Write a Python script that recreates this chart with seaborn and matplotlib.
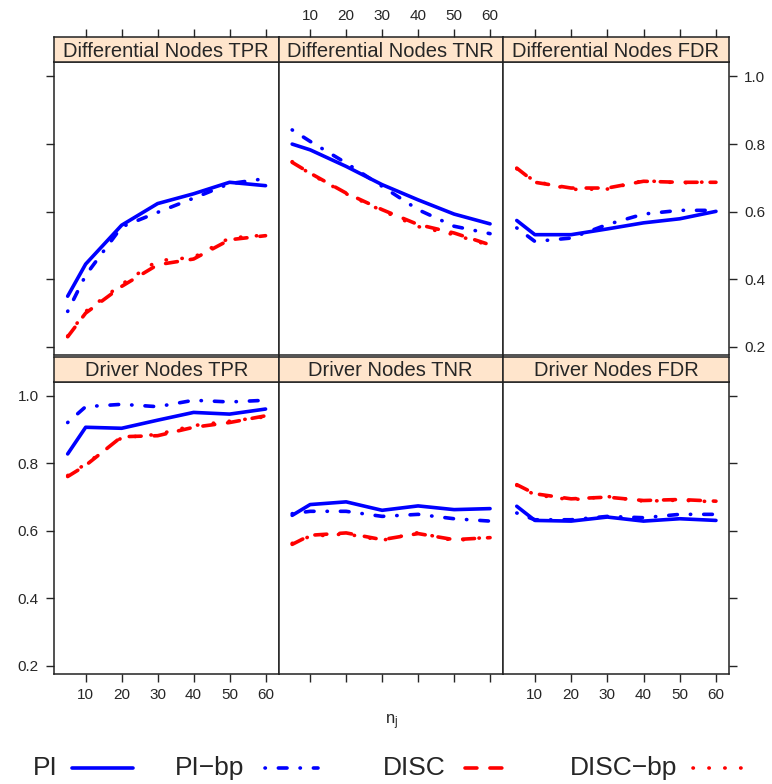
import numpy as np
import pandas as pd
import matplotlib
matplotlib.use("Agg")
import matplotlib.pyplot as plt
from matplotlib.lines import Line2D
import seaborn as sns

sns.set_style("white")
plt.rcParams['font.family'] = ['Liberation Sans', 'DejaVu Sans']

# ---------------- data ----------------
n_j = [5, 10, 20, 30, 40, 50, 60]
methods = ["PI", "PI\u2212bp", "DISC", "DISC\u2212bp"]
panel_titles = ["Differential Nodes TPR", "Differential Nodes TNR", "Differential Nodes FDR",
                "Driver Nodes TPR", "Driver Nodes TNR", "Driver Nodes FDR"]

diff_tpr_pi     = [0.350, 0.445, 0.560, 0.624, 0.653, 0.687, 0.677]
diff_tpr_pibp   = [0.305, 0.412, 0.555, 0.598, 0.640, 0.683, 0.698]
diff_tpr_disc   = [0.230, 0.300, 0.379, 0.443, 0.460, 0.517, 0.529]
diff_tpr_discbp = [0.232, 0.305, 0.385, 0.455, 0.465, 0.522, 0.531]

diff_tnr_pi     = [0.800, 0.783, 0.734, 0.680, 0.635, 0.593, 0.564]
diff_tnr_pibp   = [0.842, 0.808, 0.744, 0.675, 0.606, 0.557, 0.535]
diff_tnr_disc   = [0.746, 0.714, 0.655, 0.606, 0.562, 0.537, 0.502]
diff_tnr_discbp = [0.748, 0.712, 0.653, 0.603, 0.556, 0.532, 0.500]

diff_fdr_pi     = [0.574, 0.532, 0.532, 0.549, 0.567, 0.579, 0.601]
diff_fdr_pibp   = [0.552, 0.512, 0.522, 0.562, 0.593, 0.604, 0.604]
diff_fdr_disc   = [0.729, 0.687, 0.670, 0.670, 0.690, 0.687, 0.687]
diff_fdr_discbp = [0.727, 0.690, 0.666, 0.667, 0.692, 0.685, 0.689]

drv_tpr_pi      = [0.828, 0.907, 0.904, 0.928, 0.951, 0.946, 0.961]
drv_tpr_pibp    = [0.921, 0.968, 0.975, 0.968, 0.987, 0.982, 0.987]
drv_tpr_disc    = [0.761, 0.794, 0.879, 0.882, 0.907, 0.921, 0.941]
drv_tpr_discbp  = [0.764, 0.798, 0.876, 0.886, 0.912, 0.925, 0.938]

drv_tnr_pi      = [0.646, 0.678, 0.686, 0.661, 0.674, 0.663, 0.666]
drv_tnr_pibp    = [0.651, 0.658, 0.658, 0.643, 0.649, 0.636, 0.629]
drv_tnr_disc    = [0.560, 0.587, 0.594, 0.574, 0.592, 0.574, 0.580]
drv_tnr_discbp  = [0.563, 0.584, 0.591, 0.572, 0.595, 0.571, 0.582]

drv_fdr_pi      = [0.673, 0.631, 0.629, 0.641, 0.629, 0.636, 0.631]
drv_fdr_pibp    = [0.653, 0.633, 0.633, 0.643, 0.639, 0.649, 0.649]
drv_fdr_disc    = [0.737, 0.710, 0.695, 0.700, 0.690, 0.693, 0.688]
drv_fdr_discbp  = [0.735, 0.707, 0.692, 0.702, 0.688, 0.691, 0.686]

panel_series = [
    [diff_tpr_pi, diff_tpr_pibp, diff_tpr_disc, diff_tpr_discbp],
    [diff_tnr_pi, diff_tnr_pibp, diff_tnr_disc, diff_tnr_discbp],
    [diff_fdr_pi, diff_fdr_pibp, diff_fdr_disc, diff_fdr_discbp],
    [drv_tpr_pi, drv_tpr_pibp, drv_tpr_disc, drv_tpr_discbp],
    [drv_tnr_pi, drv_tnr_pibp, drv_tnr_disc, drv_tnr_discbp],
    [drv_fdr_pi, drv_fdr_pibp, drv_fdr_disc, drv_fdr_discbp],
]
xticks = [10, 20, 30, 40, 50, 60]
yticks = [0.2, 0.4, 0.6, 0.8, 1.0]

# ---------------- styles ----------------
palette = {methods[0]: "#0000FF", methods[1]: "#0000FF",
           methods[2]: "#FF0000", methods[3]: "#FF0000"}
dashes = {methods[0]: "", methods[1]: (0.1, 3.6, 2.4, 3.6),
          methods[2]: (3.3, 3.6), methods[3]: (0.1, 4.3)}
LW = 2.6
strip_color = "#FFE5CC"

W, H = 772, 784
fig = plt.figure(figsize=(W / 100, H / 100), dpi=100)

col_x = [54, 278.5, 503, 729]
rows = [(37.3, 62.3, 355.0), (356.5, 381.7, 674.0)]
xlim = (1.2, 63.6)
ylim = (0.176, 1.042)

def fx(px):
    return px / W

def fy(py):
    return 1 - py / H

tick_len = 6
for r in range(2):
    s_top, p_top, p_bot = rows[r]
    for c in range(3):
        idx = r * 3 + c
        x0, x1 = col_x[c], col_x[c + 1]
        ax = fig.add_axes([fx(x0), fy(p_bot), fx(x1) - fx(x0), fy(p_top) - fy(p_bot)])
        sax = fig.add_axes([fx(x0), fy(p_top), fx(x1) - fx(x0), fy(s_top) - fy(p_top)], sharex=ax)

        df = pd.DataFrame({
            "n_j": np.tile(n_j, 4),
            "value": np.concatenate(panel_series[idx]),
            "method": np.repeat(methods, len(n_j)),
        })
        sns.lineplot(data=df, x="n_j", y="value", hue="method", style="method",
                     palette=palette, dashes=dashes, hue_order=methods, style_order=methods,
                     linewidth=LW, legend=False, ax=ax,
                     dash_capstyle="round", solid_capstyle="round")
        ax.set_xlim(*xlim)
        ax.set_ylim(*ylim)
        ax.set_xlabel("")
        ax.set_ylabel("")
        ax.set_xticks(xticks)
        ax.set_yticks(yticks)
        ax.set_yticklabels(["%.1f" % v for v in yticks])
        ax.set_xticklabels([str(v) for v in xticks])
        for sp in ax.spines.values():
            sp.set_color("#222222")
            sp.set_linewidth(1.1)

        # strip
        sax.set_facecolor(strip_color)
        sax.set_yticks([])
        for sp in sax.spines.values():
            sp.set_color("#222222")
            sp.set_linewidth(1.1)
        sax.text(0.5, 0.45, panel_titles[idx], transform=sax.transAxes,
                 ha="center", va="center", fontsize=14.5)

        if r == 0:
            ax.tick_params(axis="y", left=(c == 0), labelleft=False,
                           right=(c == 2), labelright=(c == 2),
                           direction="out", length=tick_len, width=1, pad=5, labelsize=11)
        else:
            ax.tick_params(axis="y", left=(c == 0), labelleft=(c == 0),
                           right=(c == 2), labelright=False,
                           direction="out", length=tick_len, width=1, pad=5, labelsize=11)
        if r == 0:
            ax.tick_params(axis="x", bottom=False, labelbottom=False, top=False, labeltop=False)
            sax.tick_params(axis="x", bottom=False, labelbottom=False, top=True,
                            labeltop=(c == 1), direction="out", length=tick_len,
                            width=1, pad=4, labelsize=11)
        else:
            ax.tick_params(axis="x", bottom=True, labelbottom=(c != 1), top=False,
                           labeltop=False, direction="out", length=tick_len,
                           width=1, pad=4, labelsize=11)
            sax.tick_params(axis="x", bottom=False, labelbottom=False, top=False, labeltop=False)

fig.text(fx(391.5), fy(722), r"$\mathregular{n_j}$", ha="center", va="center", fontsize=12)

# legend (key below the panels, text followed by line sample)
leg_text_x = [33, 175, 383, 570]
leg_line_x = [(72, 133), (265, 318), (465, 510), (693, 745)]
leg_y = 768
for m, tx, (lx0, lx1) in zip(methods, leg_text_x, leg_line_x):
    fig.text(fx(tx), fy(leg_y), m, ha="left", va="center", fontsize=19)
    ln = Line2D([fx(lx0), fx(lx1)], [fy(leg_y), fy(leg_y)], transform=fig.transFigure,
                color=palette[m], linewidth=LW,
                linestyle=((0, dashes[m]) if dashes[m] else "-"),
                dash_capstyle="round", solid_capstyle="round")
    fig.add_artist(ln)

fig.savefig("out.png", dpi=100)
